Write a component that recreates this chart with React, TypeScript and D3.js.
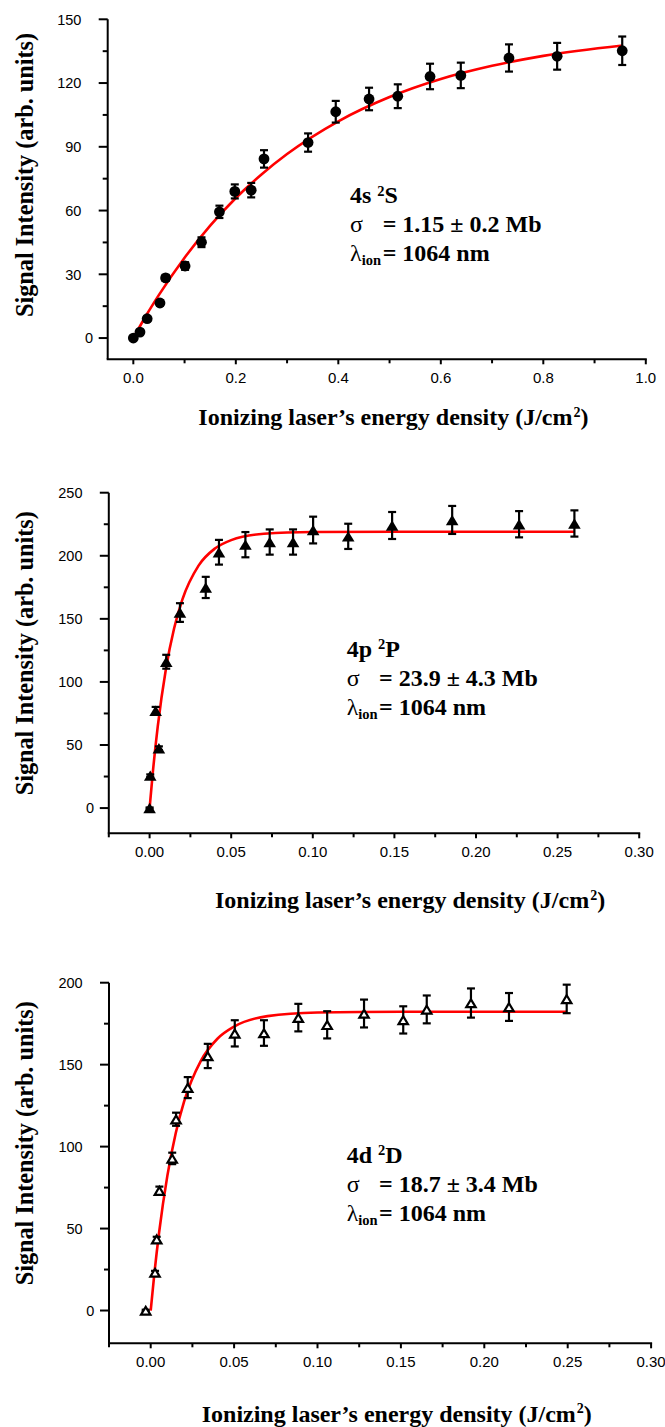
import React from 'react';
import * as d3 from 'd3';

// ---------- Panel 1 : 4s 2S ----------
const s1X = [0, 0.013, 0.027, 0.052, 0.063, 0.101, 0.133, 0.168, 0.198, 0.230, 0.255, 0.341, 0.395, 0.460, 0.516, 0.579, 0.639, 0.733, 0.827, 0.954];
const s1Y = [0, 2.8, 9.1, 16.5, 28.3, 33.9, 45.1, 59.4, 69.0, 69.6, 84.3, 92.0, 106.5, 112.5, 113.8, 123.1, 123.6, 131.8, 132.6, 135.2];
const s1Err = [0.6, 0.8, 1.0, 1.2, 1.4, 1.8, 2.3, 2.9, 3.3, 3.4, 4.1, 4.3, 5.1, 5.3, 5.6, 6.0, 6.0, 6.4, 6.3, 6.7];
const s1FitX = [0, 0.025, 0.05, 0.1, 0.15, 0.2, 0.25, 0.3, 0.4, 0.5, 0.6, 0.7, 0.8, 0.955];
const s1FitY = [0, 10.6, 20.3, 37.8, 52.9, 65.9, 77.0, 86.6, 102.0, 113.4, 121.9, 128.1, 132.8, 137.7];

// ---------- Panel 2 : 4p 2P ----------
const p2X = [0, 0.0004, 0.0057, 0.0037, 0.0102, 0.0186, 0.0344, 0.0425, 0.0587, 0.0736, 0.0879, 0.1002, 0.1217, 0.1486, 0.1854, 0.2264, 0.2603];
const p2Y = [0, 25.7, 47.4, 77.2, 116.0, 155.0, 174.9, 202.8, 208.8, 210.9, 210.9, 220.4, 215.4, 224.0, 228.4, 225.0, 225.6];
const p2Err = [0.5, 1, 1.5, 3, 5.5, 7.4, 8.4, 9.8, 10, 10, 10, 10.6, 10, 10.7, 11.1, 10.4, 10.4];
const p2FitX = [0, 0.002, 0.005, 0.01, 0.015, 0.02, 0.03, 0.04, 0.05, 0.07, 0.1, 0.15, 0.2603];
const p2FitY = [0, 28.6, 64.7, 110.2, 142.3, 165.0, 192.2, 205.7, 212.4, 217.4, 218.8, 219.0, 219.0];

// ---------- Panel 3 : 4d 2D ----------
const d3X = [-0.003, 0.0026, 0.0036, 0.0052, 0.0129, 0.0152, 0.0222, 0.0342, 0.0504, 0.0679, 0.0885, 0.1058, 0.1279, 0.1514, 0.1655, 0.1920, 0.2148, 0.2494];
const d3Y = [0, 23.2, 43.5, 73.1, 92.8, 116.7, 136.0, 155.3, 169.1, 169.3, 178.7, 174.3, 181.2, 177.3, 183.7, 187.6, 185.2, 190.1];
const d3Err = [0.5, 1, 1.5, 2.5, 3.5, 4, 6.4, 7.4, 8, 7.8, 8.4, 8.3, 8.5, 8.3, 8.5, 8.9, 8.5, 8.7];
const d3FitX = [0, 0.002, 0.005, 0.01, 0.015, 0.02, 0.03, 0.04, 0.05, 0.07, 0.1, 0.15, 0.2494];
const d3FitY = [0, 20.6, 47.3, 82.3, 108.2, 127.4, 152.2, 165.8, 173.2, 179.6, 181.8, 182.3, 182.3];

// ---------- ticks ----------
const x1Major = [0, 0.2, 0.4, 0.6, 0.8, 1.0];
const x1Minor = [0.1, 0.3, 0.5, 0.7, 0.9];
const x23Major = [0, 0.05, 0.10, 0.15, 0.20, 0.25, 0.30];
const x23Minor = [-0.025, 0.025, 0.075, 0.125, 0.175, 0.225, 0.275];
const y1Major = [0, 30, 60, 90, 120, 150];
const y1Minor = [15, 45, 75, 105, 135];
const y2Major = [0, 50, 100, 150, 200, 250];
const y2Minor = [25, 75, 125, 175, 225];
const y3Major = [0, 50, 100, 150, 200];
const y3Minor = [25, 75, 125, 175];

// ---------- texts ----------
const yTitle = 'Signal Intensity (arb. units)';
const xTitle = 'Ionizing laser\u2019s energy density (J/cm';
const states = [
  { lvl: '4s ', term: 'S', sigma: '= 1.15 \u00b1 0.2 Mb' },
  { lvl: '4p ', term: 'P', sigma: '= 23.9 \u00b1 4.3 Mb' },
  { lvl: '4d ', term: 'D', sigma: '= 18.7 \u00b1 3.4 Mb' },
];
const lambdaText = '= 1064 nm';

const SERIF = '"Liberation Serif", "Times New Roman", Times, serif';
const SANS = '"Liberation Sans", Arial, Helvetica, sans-serif';

type Marker = 'circle' | 'tri' | 'otri';

interface PanelProps {
  xDomain: [number, number];
  xRange: [number, number];
  yDomain: [number, number];
  yRange: [number, number];
  xMajor: number[];
  xMinor: number[];
  xFmt: string;
  yMajor: number[];
  yMinor: number[];
  xs: number[];
  ys: number[];
  errs: number[];
  fitX: number[];
  fitY: number[];
  marker: Marker;
  yTitleY: number;
  xTitleX: number;
  xTitleY: number;
  ann: { x: number; eqX: number; y0: number; dy: number };
  st: { lvl: string; term: string; sigma: string };
}

function Panel(p: PanelProps) {
  const x = d3.scaleLinear().domain(p.xDomain).range(p.xRange);
  const y = d3.scaleLinear().domain(p.yDomain).range(p.yRange);
  const ax = p.xRange[0];
  const ay = p.yRange[0];
  const yTop = y(p.yMajor[p.yMajor.length - 1]);
  const xRight = x(p.xMajor[p.xMajor.length - 1]);
  const fmt = d3.format(p.xFmt);
  const line = d3
    .line<number>()
    .x((_, i) => x(p.fitX[i]))
    .y((d) => y(d))
    .curve(d3.curveMonotoneX);
  const cap = 4;
  const tw = 6.3;
  const th = 5.2;

  return (
    <g>
      {/* axes */}
      <line x1={ax} x2={ax} y1={ay} y2={yTop} stroke="#000" strokeWidth={2} />
      <line x1={ax - 1} x2={xRight + 1} y1={ay} y2={ay} stroke="#000" strokeWidth={2} />
      {p.yMajor.map((v) => (
        <g key={'ym' + v}>
          <line x1={ax - 9} x2={ax} y1={y(v)} y2={y(v)} stroke="#000" strokeWidth={2} />
          <text
            x={v === 0 ? ax - 14.7 : ax - 26.3}
            y={y(v)}
            dy="0.36em"
            textAnchor="end"
            fontFamily={SANS}
            fontSize={14.5}
            fill="#000"
          >
            {v}
          </text>
        </g>
      ))}
      {p.yMinor.map((v) => (
        <line key={'yn' + v} x1={ax - 5} x2={ax} y1={y(v)} y2={y(v)} stroke="#000" strokeWidth={2} />
      ))}
      {p.xMajor.map((v) => (
        <g key={'xm' + v}>
          <line x1={x(v)} x2={x(v)} y1={ay} y2={ay + 5} stroke="#000" strokeWidth={2} />
          <text x={x(v)} y={ay + 24} textAnchor="middle" fontFamily={SANS} fontSize={15} fill="#000">
            {fmt(v)}
          </text>
        </g>
      ))}
      {p.xMinor.map((v) => (
        <line key={'xn' + v} x1={x(v)} x2={x(v)} y1={ay} y2={ay + 4} stroke="#000" strokeWidth={2} />
      ))}

      {/* fit */}
      <path d={line(p.fitY) || ''} fill="none" stroke="#ff0000" strokeWidth={2.6} />

      {/* error bars */}
      {p.xs.map((xv, i) => {
        const cx = x(xv);
        const y1 = y(p.ys[i] + p.errs[i]);
        const y2 = y(p.ys[i] - p.errs[i]);
        return (
          <g key={'e' + i} stroke="#000" strokeWidth={2.2}>
            <line x1={cx} x2={cx} y1={y1} y2={y2} />
            <line x1={cx - cap} x2={cx + cap} y1={y1} y2={y1} />
            <line x1={cx - cap} x2={cx + cap} y1={y2} y2={y2} />
          </g>
        );
      })}

      {/* markers */}
      {p.xs.map((xv, i) => {
        const cx = x(xv);
        const cy = y(p.ys[i]);
        if (p.marker === 'circle') return <circle key={'m' + i} cx={cx} cy={cy} r={5.4} fill="#000" />;
        const pts = `${cx},${cy - th} ${cx + tw},${cy + th} ${cx - tw},${cy + th}`;
        if (p.marker === 'tri') return <polygon key={'m' + i} points={pts} fill="#000" />;
        const pts2 = `${cx},${cy - th + 1.5} ${cx + tw - 1.6},${cy + th - 1} ${cx - tw + 1.6},${cy + th - 1}`;
        return <polygon key={'m' + i} points={pts2} fill="#fff" stroke="#000" strokeWidth={2.2} strokeLinejoin="miter" />;
      })}

      {/* titles */}
      <text
        transform={`translate(33,${p.yTitleY}) rotate(-90)`}
        textAnchor="middle"
        fontFamily={SERIF}
        fontWeight="bold"
        fontSize={26}
        textLength={284}
        lengthAdjust="spacingAndGlyphs"
        fill="#000"
      >
        {yTitle}
      </text>
      <text x={p.xTitleX} y={p.xTitleY} fontFamily={SERIF} fontWeight="bold" fontSize={24} fill="#000">
        {xTitle}
        <tspan dx={1} dy={-8.5} fontSize={14}>2</tspan>
        <tspan dy={8.5}>)</tspan>
      </text>

      {/* annotation */}
      <g fontFamily={SERIF} fill="#000">
        <text x={p.ann.x} y={p.ann.y0} fontWeight="bold" fontSize={24}>
          {p.st.lvl}
          <tspan dy={-7.5} fontSize={14.5}>2</tspan>
          <tspan dy={7.5}>{p.st.term}</tspan>
        </text>
        <text x={p.ann.x} y={p.ann.y0 + p.ann.dy} fontSize={24}>
          {'\u03c3'}
        </text>
        <text x={p.ann.eqX} y={p.ann.y0 + p.ann.dy} fontWeight="bold" fontSize={24}>
          {p.st.sigma}
        </text>
        <text x={p.ann.x} y={p.ann.y0 + 2 * p.ann.dy} fontSize={24}>
          {'\u03bb'}
          <tspan dy={4} fontSize={14.5} fontWeight="bold">ion</tspan>
        </text>
        <text x={p.ann.eqX} y={p.ann.y0 + 2 * p.ann.dy} fontWeight="bold" fontSize={24}>
          {lambdaText}
        </text>
      </g>
    </g>
  );
}

export default function App() {
  return (
    <svg
      width={665}
      height={1427}
      viewBox="0 0 665 1427"
      style={{ position: 'absolute', left: 0, top: 0, display: 'block', background: '#fff' }}
    >
      <rect x={0} y={0} width={665} height={1427} fill="#fff" />
      <Panel
        xDomain={[-0.05, 1.0]}
        xRange={[107.7, 645.8]}
        yDomain={[-10, 150]}
        yRange={[359.3, 19.3]}
        xMajor={x1Major}
        xMinor={x1Minor}
        xFmt=".1f"
        yMajor={y1Major}
        yMinor={y1Minor}
        xs={s1X}
        ys={s1Y}
        errs={s1Err}
        fitX={s1FitX}
        fitY={s1FitY}
        marker="circle"
        yTitleY={175}
        xTitleX={198.3}
        xTitleY={425}
        ann={{ x: 350, eqX: 382.7, y0: 203.3, dy: 29 }}
        st={states[0]}
      />
      <Panel
        xDomain={[-0.025, 0.3]}
        xRange={[108.8, 639.2]}
        yDomain={[-20, 250]}
        yRange={[833.3, 492.7]}
        xMajor={x23Major}
        xMinor={x23Minor}
        xFmt=".2f"
        yMajor={y2Major}
        yMinor={y2Minor}
        xs={p2X}
        ys={p2Y}
        errs={p2Err}
        fitX={p2FitX}
        fitY={p2FitY}
        marker="tri"
        yTitleY={653.3}
        xTitleX={215}
        xTitleY={908.3}
        ann={{ x: 346.7, eqX: 379, y0: 656.7, dy: 29.2 }}
        st={states[1]}
      />
      <Panel
        xDomain={[-0.025, 0.3]}
        xRange={[109, 651.1]}
        yDomain={[-20, 200]}
        yRange={[1343.3, 982.7]}
        xMajor={x23Major}
        xMinor={x23Minor}
        xFmt=".2f"
        yMajor={y3Major}
        yMinor={y3Minor}
        xs={d3X}
        ys={d3Y}
        errs={d3Err}
        fitX={d3FitX}
        fitY={d3FitY}
        marker="otri"
        yTitleY={1143.3}
        xTitleX={201.7}
        xTitleY={1421.7}
        ann={{ x: 346.7, eqX: 379, y0: 1162.7, dy: 29 }}
        st={states[2]}
      />
    </svg>
  );
}
